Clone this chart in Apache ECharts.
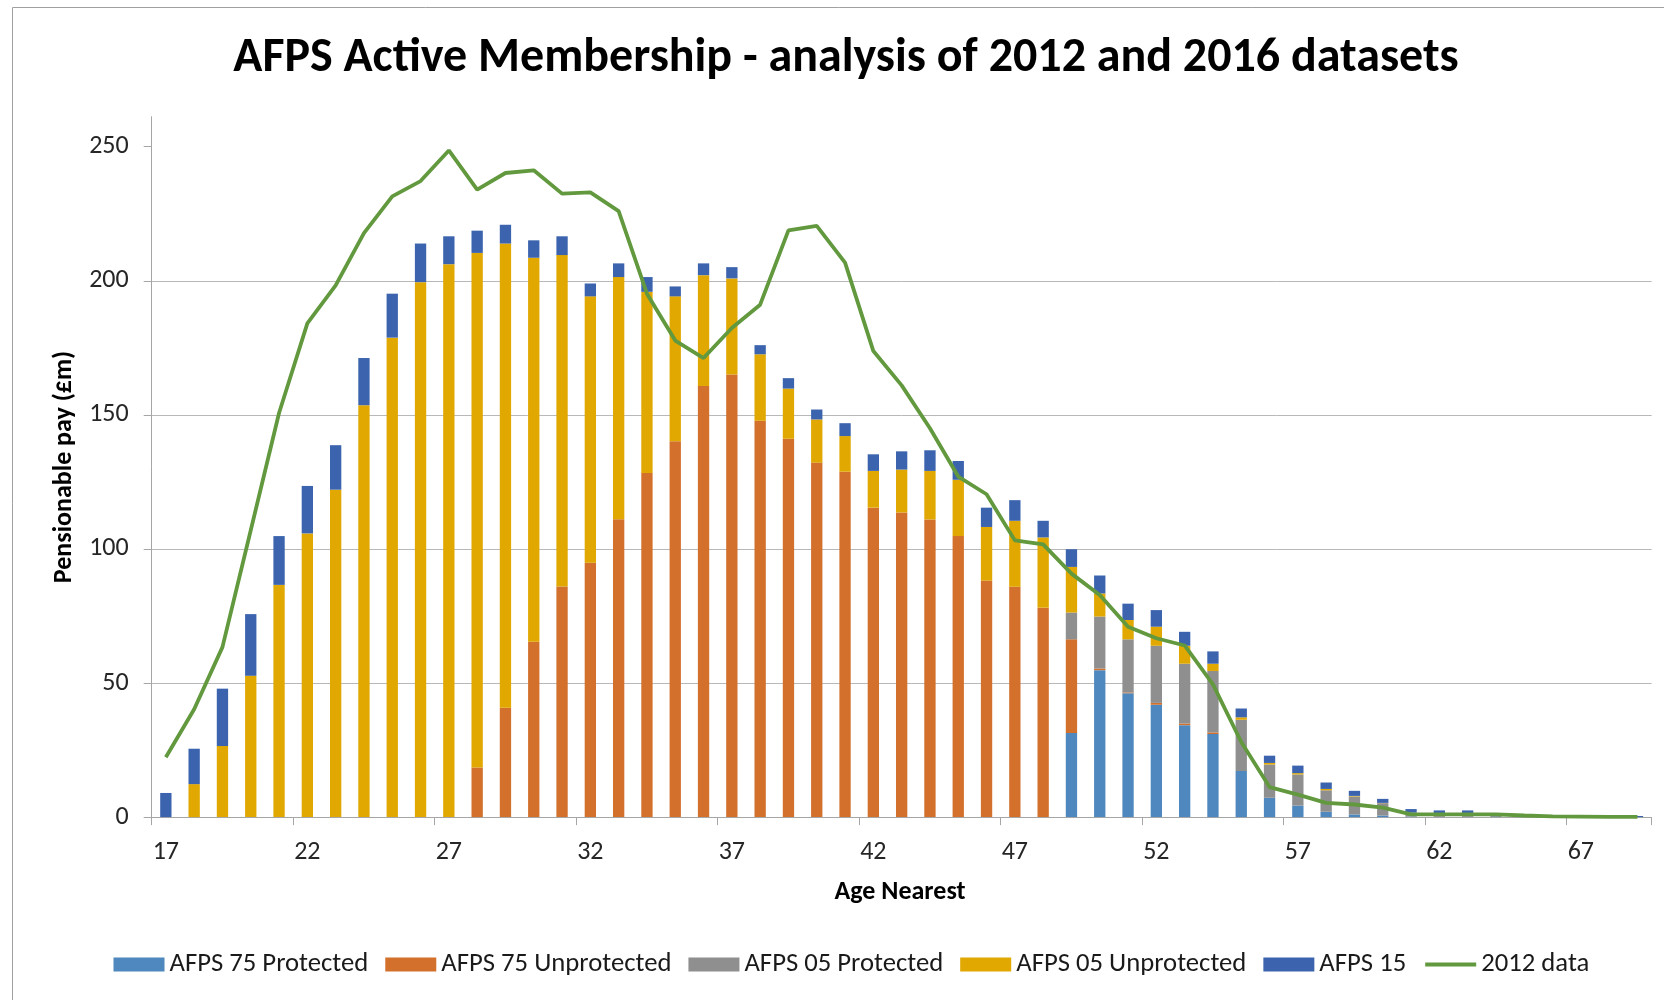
<!DOCTYPE html>
<html>
<head>
<meta charset="utf-8">
<script src="https://cdn.jsdelivr.net/npm/echarts@6/dist/echarts.min.js"></script>
<style>
  html, body { margin: 0; padding: 0; background: #fff; }
  #main { width: 1664px; height: 1000px; }
</style>
</head>
<body>
<div id="main"></div>
<script>
// age nearest (categories)
const ages = ['17','18','19','20','21','22','23','24','25','26','27','28','29','30','31','32','33','34','35','36',
  '37','38','39','40','41','42','43','44','45','46','47','48','49','50','51','52','53','54','55','56',
  '57','58','59','60','61','62','63','64','65','66','67','68','69'];

// 2016 dataset, pensionable pay (£m) by section
const afps75Protected = [0,0,0,0,0,0,0,0,0,0,0,0,0,0,0,0,0,0,0,0,
  0,0,0,0,0,0,0,0,0,0,0,0,31.4,54.8,46.2,41.9,34.3,31.0,17.2,7.2,
  4.3,2.0,1.0,0.6,0.2,0.1,0.1,0,0,0,0,0,0];
const afps75Unprotected = [0,0,0,0,0,0,0,0,0,0,0,18.5,40.8,65.4,86.0,94.9,111.1,128.3,140.2,160.8,
  165.1,147.8,141.1,132.2,128.8,115.4,113.6,111.0,104.8,88.2,85.9,78.1,34.9,0.6,0.3,0.7,0.6,0.6,0,0,
  0,0,0,0,0,0,0,0,0,0,0,0,0];
const afps05Protected = [0,0,0,0,0,0,0,0,0,0,0,0,0,0,0,0,0,0,0,0,
  0,0,0,0,0,0,0,0,0,0,0,0,10.0,19.4,19.8,21.3,22.3,22.9,19.1,12.4,
  11.6,8.0,6.7,4.6,1.5,1.0,0.8,0.3,0.2,0.1,0,0,0];
const afps05Unprotected = [0,12.3,26.5,52.7,86.6,105.8,122.1,153.6,178.8,199.5,206.2,191.9,173.1,143.2,123.6,99.3,90.3,67.6,54.0,41.3,
  35.8,24.8,18.7,16.1,13.3,13.7,16.0,18.1,21.0,20.0,24.6,26.2,17.0,8.6,7.2,7.1,6.7,2.7,0.9,0.6,
  0.5,0.5,0.2,0.1,0,0,0,0,0,0,0,0,0];
const afps15 = [9.0,13.2,21.4,23.0,18.2,17.7,16.6,17.6,16.4,14.4,10.4,8.3,7.0,6.5,7.0,4.8,5.1,5.5,3.7,4.4,
  4.2,3.4,3.9,3.7,4.8,6.2,6.8,7.7,7.0,7.2,7.7,6.2,6.6,6.7,6.1,6.2,5.2,4.6,3.3,2.7,
  2.8,2.4,1.9,1.5,1.3,1.4,1.6,0.4,0.2,0.1,0.1,0.1,0.4];

// 2012 dataset total
const data2012 = [22.3,40.2,63.4,107,150.7,184.1,198.3,217.8,231.5,237.2,248.6,234,240.2,241.2,232.5,233.0,226,195.2,177.7,171.2,
  182.4,191.1,218.8,220.5,206.8,173.8,161,145,127,120.4,103.2,101.7,90.8,82.8,71,66.7,64,49.5,28,11.2,
  8.4,5.3,4.7,3.5,1.0,1.0,1.0,1.0,0.6,0.3,0.2,0.1,0.1];

const yTicks = [0, 50, 100, 150, 200, 250];

const font = 'Carlito, Lato, sans-serif';

function barSeries(name, data, color) {
  return {
    name: name,
    type: 'bar',
    stack: 'total',
    barWidth: '40%',
    data: data,
    itemStyle: { color: color },
    emphasis: { disabled: true }
  };
}

let option = {
  animation: false,
  textStyle: { fontFamily: font },
  graphic: [
    { type: 'line', shape: { x1: 12.5, y1: 7.5, x2: 1664, y2: 7.5 }, style: { stroke: '#a0a0a0', lineWidth: 1 } },
    { type: 'line', shape: { x1: 12.5, y1: 7.5, x2: 12.5, y2: 1000 }, style: { stroke: '#a0a0a0', lineWidth: 1 } },
    {
      type: 'text', x: 846, y: 59,
      style: {
        text: 'AFPS Active Membership - analysis of 2012 and 2016 datasets',
        fontFamily: font, fontSize: 48, fontWeight: 'bold', fill: '#000',
        textAlign: 'center', textVerticalAlign: 'middle'
      }
    },
    {
      type: 'text', x: 64, y: 467, rotation: Math.PI / 2,
      style: {
        text: 'Pensionable pay (£m)',
        fontFamily: font, fontSize: 26, fontWeight: 'bold', fill: '#000',
        textAlign: 'center', textVerticalAlign: 'middle'
      }
    },
    {
      type: 'text', x: 900, y: 892,
      style: {
        text: 'Age Nearest',
        fontFamily: font, fontSize: 26, fontWeight: 'bold', fill: '#000',
        textAlign: 'center', textVerticalAlign: 'middle'
      }
    }
  ],
  legend: {
    left: 113.5,
    top: 951,
    padding: 0,
    itemWidth: 51,
    itemHeight: 14,
    itemGap: 17,
    textStyle: { fontFamily: font, fontSize: 26.7, color: '#1a1a1a' },
    data: [
      { name: 'AFPS 75 Protected', icon: 'rect' },
      { name: 'AFPS 75 Unprotected', icon: 'rect' },
      { name: 'AFPS 05 Protected', icon: 'rect' },
      { name: 'AFPS 05 Unprotected', icon: 'rect' },
      { name: 'AFPS 15', icon: 'rect' },
      { name: '2012 data', itemStyle: { opacity: 0 }, lineStyle: { width: 4 } }
    ]
  },
  grid: {
    left: 151.7,
    right: 12.4,
    top: 116.7,
    bottom: 182.9
  },
  xAxis: {
    type: 'category',
    data: ages,
    boundaryGap: true,
    axisLine: { lineStyle: { color: '#a6a6a6', width: 1 } },
    axisTick: { show: true, interval: 4, length: 8, lineStyle: { color: '#a6a6a6' } },
    axisLabel: { interval: 4, margin: 22, fontSize: 26, color: '#262626', fontFamily: font },
    splitLine: { show: false }
  },
  yAxis: {
    type: 'value',
    min: 0,
    max: 261.2,
    interval: 50,
    axisLine: { show: true, lineStyle: { color: '#a6a6a6', width: 1 } },
    axisTick: { show: true, length: 8, customValues: yTicks, lineStyle: { color: '#a6a6a6' } },
    axisLabel: {
      margin: 23, fontSize: 26, color: '#262626', fontFamily: font,
      customValues: yTicks,
      formatter: v => (v % 50 === 0 ? String(v) : '')
    },
    splitLine: { show: true, showMaxLine: false, lineStyle: { color: '#b8b8b8', width: 1 } }
  },
  series: [
    barSeries('AFPS 75 Protected', afps75Protected, '#4f88be'),
    barSeries('AFPS 75 Unprotected', afps75Unprotected, '#d2702c'),
    barSeries('AFPS 05 Protected', afps05Protected, '#8f8f8f'),
    barSeries('AFPS 05 Unprotected', afps05Unprotected, '#e0a800'),
    barSeries('AFPS 15', afps15, '#3c64ae'),
    {
      name: '2012 data',
      type: 'line',
      data: data2012,
      symbol: 'none',
      z: 5,
      lineStyle: { color: '#62993e', width: 3.8 },
      itemStyle: { color: '#62993e' },
      emphasis: { disabled: true }
    }
  ]
};

let chartDom = document.getElementById('main');
let myChart = echarts.init(chartDom);
myChart.setOption(option);
</script>
</body>
</html>
